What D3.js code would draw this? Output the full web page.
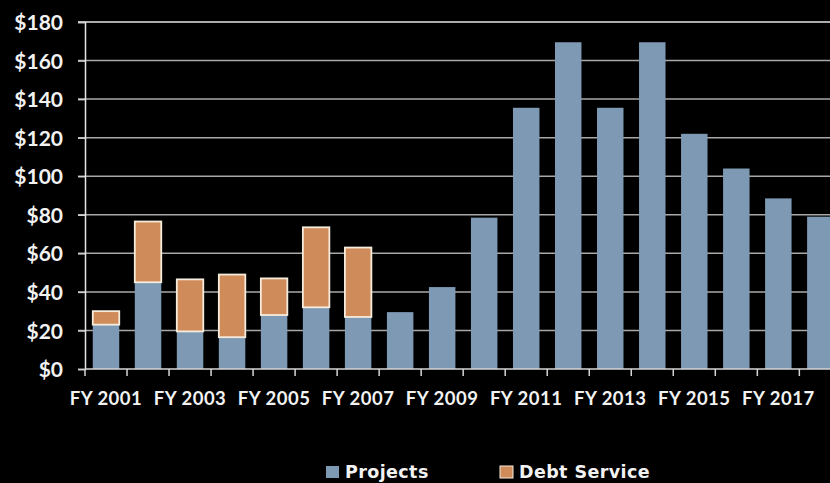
<!DOCTYPE html>
<html>
<head>
<meta charset="utf-8">
<script src="https://cdn.jsdelivr.net/npm/d3@7"></script>
<style>
  html, body { margin: 0; padding: 0; background: #000; }
  svg { display: block; }
  text { font-family: Lato, "Open Sans", sans-serif; font-weight: 700; fill: #f2f2f2; }
</style>
</head>
<body>
<svg id="chart" width="830" height="483"></svg>
<script>
// Fiscal years shown on the x axis
const years = ["FY 2001","FY 2002","FY 2003","FY 2004","FY 2005","FY 2006","FY 2007","FY 2008","FY 2009",
               "FY 2010","FY 2011","FY 2012","FY 2013","FY 2014","FY 2015","FY 2016","FY 2017","FY 2018"];
// Spending on projects ($ millions)
const projects = [23, 45, 19.5, 16.5, 28, 32, 27, 29.5, 42.5, 78.5, 135.5, 169.5, 135.5, 169.5, 122, 104, 88.5, 79];
// Debt service stacked on top of projects ($ millions)
const debtService = [7, 31.5, 27, 32.5, 19, 41.5, 36, 0, 0, 0, 0, 0, 0, 0, 0, 0, 0, 0];
// Y axis ticks
const yTicks = [0, 20, 40, 60, 80, 100, 120, 140, 160, 180];
const seriesNames = ["Projects", "Debt Service"];

const colors = { "Projects": "#7e99b4", "Debt Service": "#cf8b59" };

const svg = d3.select("#chart");
const plotLeft = 85, plotTop = 22, plotBottom = 369;
const step = 42.02;

const x = d3.scaleBand()
  .domain(years)
  .range([plotLeft, plotLeft + step * years.length])
  .paddingInner(0.37)
  .paddingOuter(0.185);

const y = d3.scaleLinear().domain([0, 180]).range([plotBottom, plotTop]);

// Horizontal gridlines
svg.append("g").selectAll("line")
  .data(yTicks.filter(d => d > 0))
  .join("line")
  .attr("x1", plotLeft - 7).attr("x2", 830)
  .attr("y1", d => y(d)).attr("y2", d => y(d))
  .attr("stroke", d => d === 180 ? "#e6e6e6" : "#a8a8a8")
  .attr("stroke-width", 1.5);

// Stacked bars
const rows = years.map((yr, i) => ({ yr, p: projects[i], d: debtService[i] }));
const g = svg.append("g");
g.selectAll("rect.proj")
  .data(rows)
  .join("rect")
  .attr("class", "proj")
  .attr("x", r => x(r.yr))
  .attr("width", x.bandwidth())
  .attr("y", r => y(r.p))
  .attr("height", r => y(0) - y(r.p))
  .attr("fill", colors["Projects"]);

g.selectAll("rect.debt")
  .data(rows.filter(r => r.d > 0))
  .join("rect")
  .attr("class", "debt")
  .attr("x", r => x(r.yr))
  .attr("width", x.bandwidth())
  .attr("y", r => y(r.p + r.d))
  .attr("height", r => y(r.p) - y(r.p + r.d))
  .attr("fill", colors["Debt Service"])
  .attr("stroke", "#f6ecdc")
  .attr("stroke-width", 1.8);

// Y axis
const yAxis = svg.append("g").attr("transform", `translate(${plotLeft},0)`)
  .call(d3.axisLeft(y).tickValues(yTicks).tickSize(7).tickFormat(d => "$" + d));
yAxis.select(".domain").attr("stroke", "#e6e6e6").attr("stroke-width", 1.5);
yAxis.selectAll(".tick line").attr("stroke", "#cfcfcf").attr("stroke-width", 1.5);
yAxis.selectAll(".tick text")
  .attr("x", -22)
  .attr("dy", "0.36em")
  .style("font-size", "21px")
  .style("font-family", "Lato, sans-serif")
  .attr("fill", "#f2f2f2");

// X axis baseline and ticks at category boundaries
svg.append("line")
  .attr("x1", plotLeft).attr("x2", 830)
  .attr("y1", plotBottom).attr("y2", plotBottom)
  .attr("stroke", "#d6d6d6").attr("stroke-width", 1.5);
svg.append("g").selectAll("line")
  .data(d3.range(years.length + 1))
  .join("line")
  .attr("x1", i => plotLeft + i * step).attr("x2", i => plotLeft + i * step)
  .attr("y1", plotBottom).attr("y2", plotBottom + 7)
  .attr("stroke", "#d6d6d6").attr("stroke-width", 1.5);

svg.append("g").selectAll("text")
  .data(years.filter((d, i) => i % 2 === 0))
  .join("text")
  .attr("x", d => x(d) + x.bandwidth() / 2)
  .attr("y", 405)
  .attr("text-anchor", "middle")
  .style("font-size", "18.5px")
  .style("letter-spacing", "0.5px")
  .text(d => d);

// Legend
const legend = svg.append("g");
const legendItems = [
  { name: seriesNames[0], x: 326 },
  { name: seriesNames[1], x: 500 }
];
legend.selectAll("rect")
  .data(legendItems)
  .join("rect")
  .attr("x", d => d.x).attr("y", 466)
  .attr("width", 13).attr("height", 12)
  .attr("fill", d => colors[d.name])
  .attr("stroke", d => d.name === "Debt Service" ? "#f6ecdc" : "none")
  .attr("stroke-width", 1);
legend.selectAll("text")
  .data(legendItems)
  .join("text")
  .attr("x", d => d.x + 19).attr("y", 477.5)
  .style("font-family", "'DejaVu Sans', sans-serif")
  .style("font-size", "17.5px")
  .style("letter-spacing", "0.4px")
  .text(d => d.name);
</script>
</body>
</html>
